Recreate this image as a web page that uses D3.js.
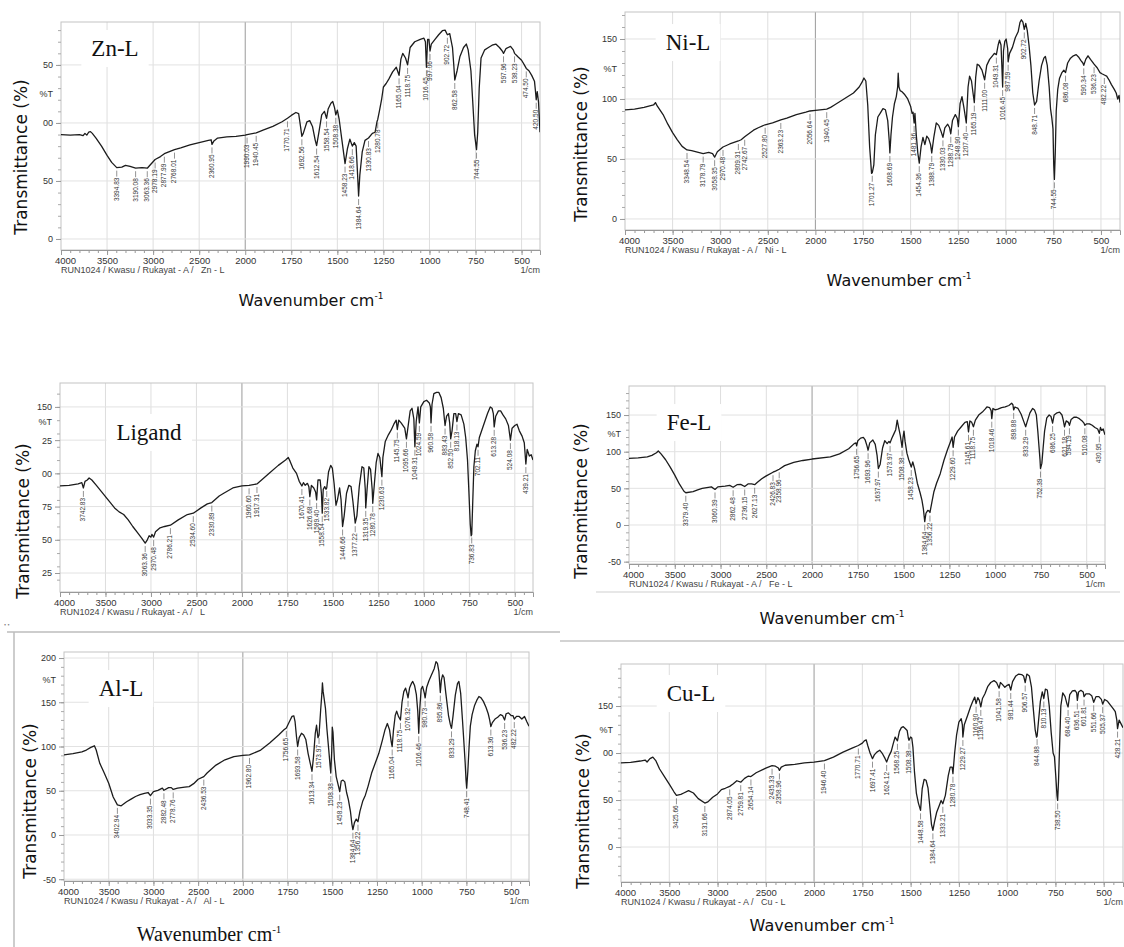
<!DOCTYPE html>
<html>
<head>
<meta charset="utf-8">
<script src="https://d3js.org/d3.v7.min.js"></script>
<style>
	body { margin: 0; background: #fff; }
</style>
</head>
<body>
<svg id="fig" width="1124" height="947"></svg>
<script>
(function () {
'use strict';

// wavenumber (1/cm), %T
var znSpectrum = [[4000,90],[3900,89.5],[3800,90],[3760,89],[3740,91],[3720,89.5],[3700,92],[3680,92.5],[3660,91],[3620,87],[3560,80],[3500,72],[3450,66],[3394.83,61.5],[3340,62],[3300,63.5],[3250,62.5],[3190.08,61],[3120,61.5],[3063.36,61],[3030,64],[2978.19,68.5],[2920,71],[2877.99,73.5],[2830,75],[2768.01,77],[2700,78.5],[2600,81],[2500,83],[2400,85],[2370,85.5],[2360.95,81.5],[2340,84.5],[2300,87],[2200,88],[2100,88.5],[2000,89.5],[1990.03,90],[1940.45,91.5],[1900,94],[1850,97],[1800,101],[1770.71,104],[1750,106.5],[1725,109],[1710,108],[1700,97],[1692.56,88.5],[1685,91],[1665,101],[1650,102],[1635,97],[1620,85],[1612.54,80.5],[1600,92],[1585,107],[1570,110],[1558.54,104],[1550,112],[1535,117],[1525,118.5],[1515,113],[1508.38,107],[1500,111],[1490,103],[1475,85],[1458.23,65],[1445,78],[1432,86],[1418.66,80],[1408,83],[1398,80],[1390,55],[1384.64,37],[1378,55],[1365,75],[1350,85],[1330.83,87],[1310,91],[1295,92],[1285,101],[1280.78,103],[1272,110],[1260,120],[1250,131],[1235,134],[1220,138],[1200,144],[1180,148],[1165.04,141],[1155,155],[1145,160],[1130,156],[1118.75,150],[1105,165],[1080,170],[1050,172],[1030,173],[1022,170],[1016.45,148],[1010,172],[1003,172],[997.06,162],[990,168],[970,172],[950,176],[930,179.5],[915,180],[902.72,176],[890,177],[875,165],[868,150],[862.58,137],[850,145],[835,157],[815,165],[800,168],[790,163],[775,145],[765,118],[755,90],[744.55,77],[738,92],[730,130],[720,156],[700,163],[680,165],[660,167],[640,168],[620,165],[605,162],[597.96,160],[585,164],[560,166],[545,163],[538.23,160],[520,157],[500,154],[485,150],[474.50,147],[460,145],[445,141],[430,136],[425,128],[420.50,120],[415,127],[408,118],[400,92]];
var znPeaks = [3394.83,3190.08,3063.36,2978.19,2877.99,2768.01,2360.95,1990.03,1940.45,1770.71,1692.56,1612.54,1558.54,1508.38,1458.23,1418.66,1384.64,1330.83,1280.78,1165.04,1118.75,1016.45,997.06,902.72,862.58,744.55,597.96,538.23,474.50,420.50];
var znYTicks = [0, 50, 100, 150];
var znYLabels = ["0", "50", "00", "50"];

var niSpectrum = [[4000,91],[3900,91.5],[3800,93],[3750,94],[3700,95],[3680,97],[3660,94],[3600,87],[3550,79],[3500,72],[3450,66],[3400,60.5],[3348.54,57.5],[3300,57],[3250,56],[3178.79,54.5],[3120,55.5],[3080,54.5],[3058.35,51.5],[3030,56],[2970.48,60],[2900,62.5],[2809.31,65],[2780,66],[2742.67,68.5],[2700,71],[2650,74],[2600,76],[2527.80,78.5],[2450,80],[2363.23,82.5],[2300,84],[2200,87],[2100,89],[2056.64,90],[2000,90.5],[1940.45,91.5],[1920,93],[1900,95],[1850,100],[1800,105],[1770,110],[1755,114],[1745,117.5],[1735,115],[1725,95],[1715,60],[1705,38],[1701.27,38.5],[1693,45],[1685,70],[1672,85],[1660,88],[1645,92],[1632,91],[1620,82],[1612,65],[1608.69,55],[1603,70],[1595,85],[1585,96],[1575,102],[1568,110],[1565,121.5],[1561,110],[1555,107],[1545,106],[1530,103.5],[1515,100],[1500,94],[1492,88],[1487,89],[1481.36,80],[1477,88],[1470,70],[1462,55],[1454.36,46.5],[1445,60],[1435,68],[1425,62],[1415,69],[1405,67],[1395,62],[1388.79,55],[1378,68],[1365,80],[1352,78],[1340,73],[1330.03,68],[1320,76],[1305,79],[1295,76],[1288.79,71],[1280,82],[1265,87],[1255,84],[1248.90,77],[1240,96],[1230,102],[1220,93],[1207.40,80],[1198,110],[1190,119],[1180,115],[1172,105],[1165.19,97],[1158,118],[1150,129],[1140,128],[1125,124],[1111.00,116],[1100,128],[1085,133],[1070,136],[1060,138],[1049.31,137],[1040,145],[1033,149],[1025,145],[1020,125],[1016.45,110],[1012,140],[1005,148],[998,150],[990,142],[987.59,131],[980,138],[965,143],[950,151],[935,156],[925,164],[918,166],[910,164],[902.72,158],[895,163],[887,157],[878,145],[868,128],[858,105],[848.71,95],[838,98],[825,115],[812,128],[800,134],[792,135.5],[782,128],[772,110],[765,92],[758,84],[752,75],[748,45],[744.55,33],[740,55],[735,90],[727,108],[718,117],[705,122],[695,124],[686.08,122],[675,130],[660,134],[645,136],[630,137],[618,135],[605,132],[595,130],[590.34,128],[580,133],[568,136],[555,133],[545,131],[536.23,129],[520,126],[505,122],[495,121],[482.22,120],[470,119],[458,116],[445,112],[430,108],[420,105],[412,100],[405,103],[400,97]];
var niPeaks = [3348.54,3178.79,3058.35,2970.48,2809.31,2742.67,2527.80,2363.23,2056.64,1940.45,1701.27,1608.69,1481.36,1454.36,1388.79,1330.03,1288.79,1248.90,1207.40,1165.19,1111.00,1049.31,1016.45,987.59,902.72,848.71,744.55,686.08,590.34,536.23,482.22];
var niYTicks = [0, 50, 100, 150];
var niYLabels = ["0", "50", "100", "150"];

var ligSpectrum = [[4000,90.5],[3900,91],[3800,92],[3760,93],[3742.83,89],[3725,94],[3700,95],[3680,96.5],[3650,95],[3600,91],[3500,82.5],[3400,74],[3350,71],[3300,69],[3250,65],[3200,60],[3150,55.5],[3100,51],[3063.36,47.5],[3040,50],[3020,53],[3000,52],[2990,54],[2970.48,52],[2950,56],[2900,59],[2850,60],[2786.21,61],[2700,65],[2600,69],[2534.60,70],[2450,74],[2380,77],[2330.89,78],[2250,83],[2200,85],[2100,89],[2000,90.5],[1960.60,91],[1917.31,92],[1900,94],[1850,100],[1800,106],[1760,110],[1745,112],[1735,109],[1720,104],[1700,100],[1685,94],[1670.41,90.5],[1662,93],[1652,91],[1640,92.5],[1632,90],[1626.68,82.5],[1618,91],[1605,89],[1595,86],[1589.40,80],[1582,95],[1570,95],[1563,85],[1558.54,70],[1553,88],[1545,90],[1538,88],[1533.82,89],[1524,101],[1512,106],[1503,104],[1493,92],[1483,76],[1475,80],[1463,89],[1455,80],[1446.66,60],[1438,68],[1425,85],[1412,91],[1400,90],[1390,79],[1377.22,62.5],[1368,68],[1355,90],[1340,105],[1330,104],[1322,88],[1319.35,74],[1312,88],[1302,105],[1293,103],[1284,88],[1280.78,77.5],[1272,92],[1262,108],[1252,115],[1242,112],[1235,103],[1230.63,97.5],[1225,112],[1212,124],[1195,129],[1180,132.5],[1165,137],[1152,140],[1145.75,133],[1138,140],[1125,138],[1105,134],[1095.66,126],[1085,137],[1075,147],[1065,149],[1055,141],[1049.31,120],[1042,139],[1032,150],[1024.59,138],[1017,150],[1000,154],[985,155],[970,153],[964,150],[960.58,138],[955,152],[945,160],[930,161],[918,161],[905,157],[893,149],[883.43,136],[875,143],[865,145],[858,138],[852.50,126],[845,132],[835,145],[825,145],[818.13,139],[810,145],[795,144],[780,137],[770,127],[760,110],[752,85],[745,62],[740,53],[736.83,54],[732,75],[725,105],[717,117],[708,122],[702.11,120],[695,127],[680,133],[665,139],[650,145],[635,150],[625,149],[618,145],[613.28,135],[605,143],[590,147],[578,147],[565,144],[550,141],[535,136],[524.08,125],[515,134],[500,136],[488,137],[475,132],[460,128],[448,123],[439.21,107],[432,118],[420,113],[410,114],[400,110]];
var ligPeaks = [3742.83,3063.36,2970.48,2786.21,2534.60,2330.89,1960.60,1917.31,1670.41,1626.68,1589.40,1558.54,1533.82,1446.66,1377.22,1319.35,1280.78,1230.63,1145.75,1095.66,1049.31,1024.59,960.58,883.43,852.50,818.13,736.83,702.11,613.28,524.08,439.21];
var ligYTicks = [25, 50, 75, 100, 125, 150];
var ligYLabels = ["25", "50", "75", "00", "25", "150"];

var feSpectrum = [[4000,91],[3900,91.5],[3800,93],[3750,95],[3700,98.5],[3680,101],[3650,97],[3600,89],[3550,79],[3500,68],[3450,56],[3400,46],[3379.40,44],[3300,45.5],[3250,48],[3200,50],[3150,51],[3100,52],[3060.39,48.5],[3030,52],[2950,53],[2900,54],[2862.48,51.5],[2820,55],[2780,55.5],[2736.15,52.5],[2700,56],[2660,56],[2627.13,55],[2600,58],[2550,63],[2500,67],[2426.83,72],[2400,73.5],[2358.96,76],[2300,81],[2200,85.5],[2100,88],[2000,90],[1900,93],[1850,97],[1800,104],[1770,111],[1760,112],[1756.65,108],[1750,115],[1735,118.5],[1720,119.5],[1710,116],[1700,108],[1693.96,102],[1685,112],[1668,116],[1655,110],[1645,95],[1637.97,77],[1628,83],[1615,105],[1603,115],[1590,111],[1580,114],[1573.97,112],[1565,118],[1552,125],[1543,130],[1535,143],[1528,134],[1518,122],[1512,112],[1508.38,106],[1503,120],[1498,128],[1492,114],[1482,98],[1472,89],[1458.23,79],[1450,86],[1440,77],[1425,57],[1410,44],[1400,34],[1392,22],[1384.64,4.5],[1378,16],[1368,20],[1360,19],[1356.22,17],[1345,32],[1335,45],[1320,57],[1300,70],[1280,88],[1260,103],[1245,113],[1235,120],[1229.60,106],[1222,120],[1205,128],[1185,134],[1165,140],[1152,141],[1145.61,127],[1138,142],[1128,140],[1118.75,134],[1108,143],[1090,150],[1070,154],[1055,158],[1045,161],[1030,160],[1022,156],[1018.46,145],[1012,159],[1000,157],[985,158],[965,160],[945,161],[925,163],[910,166],[903,164],[898.88,157],[892,161],[875,159],[858,151],[845,142],[833.29,134],[825,141],[810,153],[795,159],[785,157],[775,150],[767,128],[760,105],[755,89],[752.39,77],[745,84],[738,105],[730,128],[718,146],[705,150],[695,148],[686.25,139],[678,150],[662,153],[648,154],[635,150],[628,143],[621.18,134],[612,142],[600,140],[594.19,136],[585,144],[570,147],[555,147],[540,145],[525,142],[515,139],[510.08,136],[500,138],[485,138],[470,136],[455,133],[440,131],[430.95,125],[425,133],[418,129],[410,131],[400,123]];
var fePeaks = [3379.40,3060.39,2862.48,2736.15,2627.13,2426.83,2358.96,1756.65,1693.96,1637.97,1573.97,1508.38,1458.23,1384.64,1356.22,1229.60,1145.61,1118.75,1018.46,898.88,833.29,752.39,686.25,621.18,594.19,510.08,430.95];
var feYTicks = [-50, 0, 50, 100, 150];
var feYLabels = ["-50", "0", "50", "100", "150"];

var alSpectrum = [[4000,90.5],[3900,92],[3800,94],[3750,96],[3700,99],[3660,100.8],[3640,96],[3600,81],[3550,70],[3500,58.5],[3450,43],[3402.94,34],[3360,33],[3300,37.5],[3250,40.5],[3200,43.5],[3150,45.5],[3100,47],[3060,48],[3033.35,44.5],[3000,49],[2950,50.5],[2900,53],[2882.48,50.5],[2830,53.5],[2800,53.5],[2778.76,51.5],[2730,53],[2650,54],[2600,54.7],[2550,58],[2500,63],[2436.53,66],[2400,70],[2300,79],[2200,85],[2100,88.5],[2000,90],[1962.80,90.5],[1900,96],[1850,104],[1800,113],[1770,119],[1756.65,121],[1740,128],[1725,134],[1715,134.7],[1708,128],[1700,111],[1693.58,100],[1685,110],[1672,115],[1660,113],[1648,108],[1635,92],[1620,78],[1613.34,72],[1605,88],[1595,115],[1588,124],[1580,110],[1573.97,113],[1565,141],[1558,160],[1555,172],[1551,162],[1546,155],[1538,143],[1530,120],[1520,97],[1512,78],[1508.38,70],[1503,95],[1500,122],[1496,116],[1488,85],[1478,66],[1465,55],[1458.23,49],[1450,61],[1440,62],[1430,60],[1420,48],[1410,40],[1398,26],[1390,12],[1384.64,6],[1376,14],[1366,18],[1356.22,15],[1345,27],[1330,38],[1315,45],[1300,55],[1280,70],[1260,81],[1240,92],[1220,107],[1205,119],[1192,126],[1180,119],[1170,105],[1165.04,100],[1158,118],[1148,135],[1140,140],[1130,134],[1118.75,130],[1110,150],[1100,162],[1090,166],[1082,160],[1076.32,155],[1068,166],[1058,171],[1050,173.5],[1040,169],[1030,159],[1022,140],[1016.46,115],[1010,145],[1003,165],[995,168],[985,160],[980.73,155],[972,167],[960,174],[945,181],[930,188],[920,196],[912,194],[904,185],[895.86,161],[890,175],[883,181],[875,178],[865,160],[850,135],[840,125],[833.29,120.5],[825,134],[812,158],[800,171],[792,173.5],[782,160],[772,130],[765,108],[757,82],[752,62],[748.41,53],[742,72],[735,100],[728,123],[718,136],[705,146],[690,153],[680,156.5],[668,155],[655,151],[640,144],[628,137],[620,130],[613.36,122.5],[605,127],[590,131],[575,133],[560,136],[548,135],[536.23,130],[528,137],[515,138],[500,135],[490,135],[482.22,131],[470,134],[455,134],[440,131],[425,134],[412,128],[400,123]];
var alPeaks = [3402.94,3033.35,2882.48,2778.76,2436.53,1962.80,1756.65,1693.58,1613.34,1573.97,1508.38,1458.23,1384.64,1356.22,1165.04,1118.75,1076.32,1016.46,980.73,895.86,833.29,748.41,613.36,536.23,482.22];
var alYTicks = [-50, 0, 50, 100, 150, 200];
var alYLabels = ["-50", "0", "50", "100", "150", "200"];

var cuSpectrum = [[4000,89.5],[3900,90],[3800,91.5],[3750,92.5],[3730,90.5],[3700,94],[3670,95.7],[3640,92],[3600,83],[3550,75],[3500,67],[3450,58.5],[3425.66,55],[3380,56],[3350,57.5],[3300,60],[3250,57.5],[3200,51.5],[3131.66,46.8],[3100,48],[3050,53],[3000,56.5],[2960,61],[2920,62.5],[2874.05,64.5],[2840,67],[2800,70.5],[2759.81,69],[2720,73],[2680,75.5],[2654.14,75],[2600,79],[2500,84],[2435.33,86.5],[2400,86],[2370,84],[2358.96,81.5],[2340,85],[2300,87],[2200,88],[2100,89.5],[2000,90.4],[1946.40,92],[1900,95.7],[1850,101],[1800,105.5],[1770.71,108],[1750,110.5],[1740,113],[1730,114],[1722,108],[1710,100],[1697.41,94],[1688,98],[1675,101],[1660,103],[1645,99],[1632,94],[1624.12,90.5],[1612,97],[1600,102],[1590,110],[1580,117],[1568.25,113],[1558,123],[1548,127],[1538,128],[1528,126],[1518,124],[1512,116],[1508.38,113.5],[1500,117],[1494,116],[1488,106],[1480,80],[1470,57],[1460,47],[1448.58,39],[1440,62],[1430,72],[1420,71],[1410,63],[1400,42],[1392,24],[1384.64,17.7],[1376,27],[1365,37],[1352,44],[1342,49.5],[1333.21,46],[1320,55],[1305,76],[1295,85],[1285,85],[1280.78,78],[1272,100],[1262,119],[1250,133],[1238,136.5],[1232,130],[1229.27,117],[1222,130],[1205,140],[1190,149],[1178,155],[1168,159.5],[1160.90,152.5],[1152,159],[1144,156],[1136.47,149],[1128,158],[1115,163],[1100,171],[1085,175],[1068,177],[1055,175],[1041.58,169],[1035,175],[1025,173],[1012,170],[1000,172],[990,173],[981.44,167],[972,176],[955,182],[940,184],[925,183.5],[915,182],[906.57,175],[898,184],[885,182],[874,170],[865,148],[855,125],[848,117],[844.88,118],[838,133],[828,155],[818,165],[810.13,158],[802,168],[792,167],[782,150],[772,122],[762,100],[755,96],[748,75],[742,55],[738.50,49.6],[734,70],[728,110],[722,150],[712,164],[700,160],[690,152],[684.40,149],[676,162],[662,166],[648,166.5],[640,164],[636.51,156],[630,165],[618,166.7],[606,165],[601.81,160],[592,163],[575,163],[562,161],[551.66,154],[540,160],[525,160],[512,157],[505.37,152],[495,157],[480,155],[465,151],[450,147],[440,144],[432,135],[428.21,126],[420,135],[410,131],[400,127]];
var cuPeaks = [3425.66,3131.66,2874.05,2759.81,2654.14,2435.33,2358.96,1946.40,1770.71,1697.41,1624.12,1568.25,1508.38,1448.58,1384.64,1333.21,1280.78,1229.27,1160.90,1136.47,1041.58,981.44,906.57,844.88,810.13,738.50,684.40,636.51,601.81,551.66,505.37,428.21];
var cuYTicks = [0, 50, 100, 150];
var cuYLabels = ["0", "50", "00", "150"];

var xTicks = [4000, 3500, 3000, 2500, 2000, 1750, 1500, 1250, 1000, 750, 500];

// layout of the six scans on the page
var panels = [
	{ name: 'Zn-L', run: 'Zn - L', data: znSpectrum, peaks: znPeaks, yTicks: znYTicks, yLabels: znYLabels, pctT: 125,
		l: 61, r: 540, t: 22, b: 250, yDom: [-9.5, 187], nameAt: [115, 48], yTitleAt: [21, 157], wnAt: [311, 300], wnSerif: false },
	{ name: 'Ni-L', run: 'Ni - L', data: niSpectrum, peaks: niPeaks, yTicks: niYTicks, yLabels: niYLabels, pctT: 125,
		l: 625, r: 1120, t: 12, b: 230, yDom: [-9.2, 172.5], nameAt: [688, 42], yTitleAt: [581, 144], wnAt: [899, 280], wnSerif: false },
	{ name: 'Ligand', run: 'L', data: ligSpectrum, peaks: ligPeaks, yTicks: ligYTicks, yLabels: ligYLabels, pctT: 139,
		l: 60, r: 533, t: 383, b: 592, yDom: [10.7, 168], nameAt: [149, 432], yTitleAt: [23, 521], wnAt: null, wnSerif: false },
	{ name: 'Fe-L', run: 'Fe - L', data: feSpectrum, peaks: fePeaks, yTicks: feYTicks, yLabels: feYLabels, pctT: 125,
		l: 629, r: 1105, t: 386, b: 564, yDom: [-53.2, 189.6], nameAt: [689, 422], yTitleAt: [581, 501], wnAt: [832, 618], wnSerif: false },
	{ name: 'Al-L', run: 'Al - L', data: alSpectrum, peaks: alPeaks, yTicks: alYTicks, yLabels: alYLabels, pctT: 175,
		l: 64, r: 529, t: 652, b: 881, yDom: [-52, 206.8], nameAt: [121, 688], yTitleAt: [30, 801], wnAt: [209, 934], wnSerif: true },
	{ name: 'Cu-L', run: 'Cu - L', data: cuSpectrum, peaks: cuPeaks, yTicks: cuYTicks, yLabels: cuYLabels, pctT: 125,
		l: 621, r: 1123, t: 664, b: 882, yDom: [-37.2, 194.7], nameAt: [691, 693], yTitleAt: [583, 811], wnAt: [822, 925], wnSerif: false }
];

var svg = d3.select('#fig');
var SANS = '"Liberation Sans", Arial, sans-serif';

// %T at a given wavenumber, straight line between read points
var valueAt = function(data, wn){
	for(var i=0; i<data.length-1; i++){
		var a = data[i], b = data[i+1];
		if(wn <= a[0] && wn >= b[0]){
			var f = (a[0] - wn) / (a[0] - b[0]);
			return a[1] + f * (b[1] - a[1]);
		}
	}
	return data[data.length-1][1];
};

var drawPanel = function(p, idx){
	var g = svg.append('g').attr('class', 'panel');
	var x = d3.scaleLinear()
		.domain([4000, 2000, 400])
		.range([p.l, p.l + (p.r - p.l) * 1000 / 2600, p.r]);
	var y = d3.scaleLinear().domain(p.yDom).range([p.b, p.t]);

	// grid
	g.selectAll('line.vgrid').data(xTicks.slice(1)).enter().append('line')
		.attr('x1', function(d){ return x(d); }).attr('x2', function(d){ return x(d); })
		.attr('y1', p.t).attr('y2', p.b)
		.attr('stroke', function(d){ return d === 2000 ? '#9a9a9a' : '#dedede'; })
		.attr('stroke-width', 1);
	g.selectAll('line.hgrid').data(p.yTicks).enter().append('line')
		.attr('x1', p.l).attr('x2', p.r)
		.attr('y1', function(d){ return y(d); }).attr('y2', function(d){ return y(d); })
		.attr('stroke', '#e2e2e2').attr('stroke-width', 1);
	g.append('rect')
		.attr('x', p.l).attr('y', p.t)
		.attr('width', p.r - p.l).attr('height', p.b - p.t)
		.attr('fill', 'none').attr('stroke', '#c4c4c4');

	// minor ticks
	var minorX = d3.range(3900, 2000, -100).concat(d3.range(1950, 400, -50));
	g.append('g').attr('transform', 'translate(0,' + p.b + ')')
		.call(d3.axisBottom(x).tickValues(minorX).tickSize(3).tickFormat(''))
		.call(function(s){ s.select('.domain').remove(); s.selectAll('line').attr('stroke', '#999'); });
	var minorY = d3.range(Math.ceil(p.yDom[0] / 10) * 10, p.yDom[1], 10);
	g.append('g').attr('transform', 'translate(' + p.l + ',0)')
		.call(d3.axisLeft(y).tickValues(minorY).tickSize(3).tickFormat(''))
		.call(function(s){ s.select('.domain').remove(); s.selectAll('line').attr('stroke', '#aaa'); });

	// axes
	var xa = g.append('g').attr('transform', 'translate(0,' + p.b + ')')
		.call(d3.axisBottom(x).tickValues(xTicks).tickSize(5).tickPadding(2).tickFormat(d3.format('d')));
	xa.select('.domain').attr('stroke', '#999');
	xa.selectAll('line').attr('stroke', '#999');
	xa.selectAll('text').attr('fill', '#333').attr('font-size', 9.5).attr('font-family', SANS)
		.attr('dx', function(d){ return d === 4000 ? 4 : 0; });

	var ya = g.append('g').attr('transform', 'translate(' + p.l + ',0)')
		.call(d3.axisLeft(y).tickValues(p.yTicks).tickSize(5).tickPadding(3)
			.tickFormat(function(d, i){ return p.yLabels[i]; }));
	ya.select('.domain').remove();
	ya.selectAll('line').attr('stroke', '#999');
	ya.selectAll('text').attr('fill', '#333').attr('font-size', 9).attr('font-family', SANS);
	g.append('text')
		.attr('x', p.l - 8).attr('y', y(p.pctT)).attr('dy', '0.35em')
		.attr('text-anchor', 'end').attr('font-size', 9).attr('font-family', SANS).attr('fill', '#333')
		.text('%T');

	g.append('text')
		.attr('x', p.l).attr('y', p.b + 23)
		.attr('font-size', 9).attr('font-family', SANS).attr('fill', '#444')
		.style('white-space', 'pre')
		.text('RUN1024 / Kwasu / Rukayat - A /   ' + p.run);
	g.append('text')
		.attr('x', p.r).attr('y', p.b + 23).attr('text-anchor', 'end')
		.attr('font-size', 9).attr('font-family', SANS).attr('fill', '#444')
		.text('1/cm');

	// spectrum
	var clipId = 'clip' + idx;
	g.append('clipPath').attr('id', clipId).append('rect')
		.attr('x', p.l).attr('y', p.t).attr('width', p.r - p.l).attr('height', p.b - p.t);
	var line = d3.line()
		.x(function(d){ return x(d[0]); })
		.y(function(d){ return y(d[1]); });
	g.append('path').datum(p.data)
		.attr('clip-path', 'url(#' + clipId + ')')
		.attr('d', line)
		.attr('fill', 'none').attr('stroke', '#1c1c1c')
		.attr('stroke-width', 1.3).attr('stroke-linejoin', 'round');

	// peak marks
	var pk = g.selectAll('g.peak').data(p.peaks).enter().append('g').attr('class', 'peak')
		.attr('transform', function(d){
			return 'translate(' + x(d) + ',' + y(valueAt(p.data, d)) + ')';
		});
	pk.append('line').attr('x1', 0).attr('x2', 0).attr('y1', 3).attr('y2', 9)
		.attr('stroke', '#666').attr('stroke-width', 0.7);
	pk.append('text')
		.attr('transform', 'translate(2,10) rotate(-90)')
		.attr('text-anchor', 'end')
		.attr('font-size', 6.5).attr('font-family', SANS).attr('fill', '#333')
		.text(function(d){ return d.toFixed(2); });

	// sample name on a white patch
	var nm = g.append('text')
		.attr('x', p.nameAt[0]).attr('y', p.nameAt[1]).attr('dy', '0.35em')
		.attr('text-anchor', 'middle')
		.attr('font-family', '"Liberation Serif", "Times New Roman", serif')
		.attr('font-size', 23).attr('fill', '#111')
		.text(p.name);
	var bb = nm.node().getBBox();
	g.insert('rect', function(){ return nm.node(); })
		.attr('x', bb.x - 10).attr('y', bb.y - 6)
		.attr('width', bb.width + 20).attr('height', bb.height + 12)
		.attr('fill', '#fff');

	// titles
	svg.append('text')
		.attr('transform', 'translate(' + p.yTitleAt[0] + ',' + p.yTitleAt[1] + ') rotate(-90)')
		.attr('text-anchor', 'middle').attr('dy', '0.35em')
		.attr('font-family', '"DejaVu Sans", Verdana, sans-serif')
		.attr('font-size', 17).attr('fill', '#111')
		.text('Transmittance (%)');

	if(p.wnAt){
		var wt = svg.append('text')
			.attr('x', p.wnAt[0]).attr('y', p.wnAt[1]).attr('dy', '0.35em')
			.attr('text-anchor', 'middle')
			.attr('font-family', p.wnSerif ? '"Liberation Serif", "Times New Roman", serif' : '"DejaVu Sans", Verdana, sans-serif')
			.attr('font-size', p.wnSerif ? 20 : 16).attr('fill', '#111');
		wt.append('tspan').text('Wavenumber cm');
		wt.append('tspan').attr('dy', p.wnSerif ? -8 : -7).attr('font-size', p.wnSerif ? 11 : 9).text('-1');
	}
};

panels.forEach(drawPanel);

// frame lines left over from the page layout
svg.append('line').attr('x1', 7).attr('x2', 560).attr('y1', 632).attr('y2', 632)
	.attr('stroke', '#bdbdbd').attr('stroke-width', 1.5);
svg.append('line').attr('x1', 14).attr('x2', 14).attr('y1', 632).attr('y2', 947)
	.attr('stroke', '#bdbdbd').attr('stroke-width', 1.5);
svg.append('line').attr('x1', 560).attr('x2', 1124).attr('y1', 641).attr('y2', 641)
	.attr('stroke', '#c4c4c4').attr('stroke-width', 1.5);
svg.append('line').attr('x1', 596).attr('x2', 1120).attr('y1', 592).attr('y2', 592)
	.attr('stroke', '#cfcfcf').attr('stroke-width', 1);
svg.append('text').attr('x', 4).attr('y', 627)
	.attr('font-size', 6).attr('fill', '#777').text('\u2022 \u2022');

console.log('[ftir] panels drawn: %d', panels.length);

}());
</script>
</body>
</html>
